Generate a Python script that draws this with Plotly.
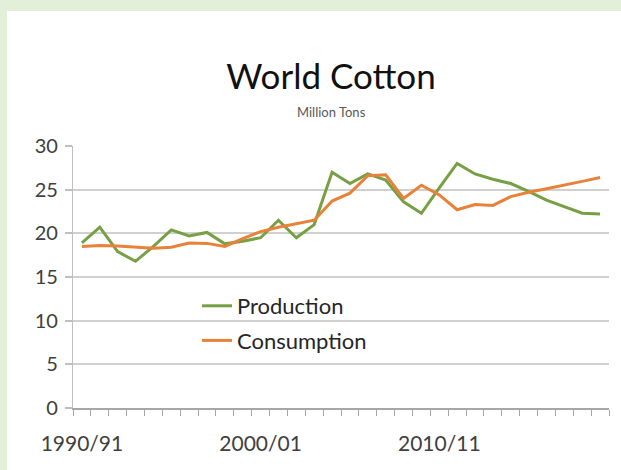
import plotly.graph_objects as go

seasons = [f"{y}/{str(y + 1)[-2:]}" for y in range(1990, 2020)]
start_years = list(range(1990, 2020))

production = [18.9, 20.7, 17.9, 16.8, 18.5, 20.4, 19.7, 20.1, 18.8, 19.1,
              19.5, 21.5, 19.5, 21.0, 27.0, 25.7, 26.8, 26.1, 23.6, 22.3,
              25.2, 28.0, 26.8, 26.2, 25.7, 24.8, 23.8, 23.05, 22.3, 22.2]
consumption = [18.5, 18.6, 18.55, 18.4, 18.3, 18.4, 18.9, 18.85, 18.5, 19.4,
               20.2, 20.7, 21.1, 21.5, 23.7, 24.6, 26.6, 26.7, 24.0, 25.5,
               24.4, 22.7, 23.3, 23.2, 24.2, 24.7, 25.1, 25.5, 25.95, 26.4]

label_years = [1990, 2000, 2010]
label_text = [seasons[start_years.index(y)] for y in label_years]
y_ticks = [0, 5, 10, 15, 20, 25, 30]

FONT = "Lato"
GREEN = "#76A043"
ORANGE = "#E8823A"

fig = go.Figure()
fig.add_trace(go.Scatter(x=start_years, y=production, mode="lines", name="Production",
                         legendgroup="p", line=dict(color=GREEN, width=3)))
fig.add_trace(go.Scatter(x=start_years, y=consumption, mode="lines", name="Consumption",
                         legendgroup="c", line=dict(color=ORANGE, width=3)))

W, H = 621, 470
PW, PH = 536, 262
fig.update_layout(
    width=W, height=H,
    paper_bgcolor="white", plot_bgcolor="white",
    margin=dict(l=73, r=12, t=146, b=62),
    font=dict(family=FONT, color="#404040"),
    title=dict(text="World Cotton", x=331 / W, xanchor="center", y=1 - 77 / H, yanchor="middle",
               font=dict(family=FONT, size=35, color="#111111")),
    showlegend=True,
    legend=dict(x=(197 - 73) / PW, y=(408 - 285) / PH, xanchor="left", yanchor="top",
                bgcolor="rgba(0,0,0,0)", font=dict(family=FONT, size=22, color="#262626"),
                traceorder="grouped", tracegroupgap=3, itemwidth=30),
    xaxis=dict(range=[1989.5, 2019.5], tickmode="array", tickvals=label_years, ticktext=label_text,
               ticks="", showgrid=False, zeroline=False, showline=True, linecolor="#a6a6a6", linewidth=1.5,
               tickfont=dict(family=FONT, size=21, color="#404040"), ticklabelstandoff=16,
               minor=dict(tick0=1989.5, dtick=1, ticks="outside", ticklen=6, tickcolor="#a6a6a6",
                          tickwidth=1.2, showgrid=False)),
    yaxis=dict(range=[0, 30], tickmode="array", tickvals=y_ticks, ticks="outside", ticklen=7,
               tickcolor="#bfbfbf", tickwidth=1.5, showgrid=True, gridcolor="#d0d0d0", gridwidth=1.5,
               zeroline=False, showline=True, linecolor="#bfbfbf", linewidth=1.2,
               tickfont=dict(family=FONT, size=20, color="#404040"), ticklabelstandoff=3),
    annotations=[dict(text="Million Tons", x=(331 - 73) / PW, y=(408 - 112) / PH, xref="paper", yref="paper",
                      xanchor="center", yanchor="middle", showarrow=False,
                      font=dict(family=FONT, size=13, color="#595959"))],
    shapes=[dict(type="rect", xref="paper", yref="paper", x0=-73 / PW, x1=(W - 73) / PW,
                 y0=1 + 135 / PH, y1=1 + 146 / PH, fillcolor="#E3EFD8", line=dict(width=0), layer="below"),
            dict(type="rect", xref="paper", yref="paper", x0=-73 / PW, x1=-66 / PW,
                 y0=-62 / PH, y1=1 + 146 / PH, fillcolor="#E3EFD8", line=dict(width=0), layer="below")],
)

fig.write_html("out.html")
